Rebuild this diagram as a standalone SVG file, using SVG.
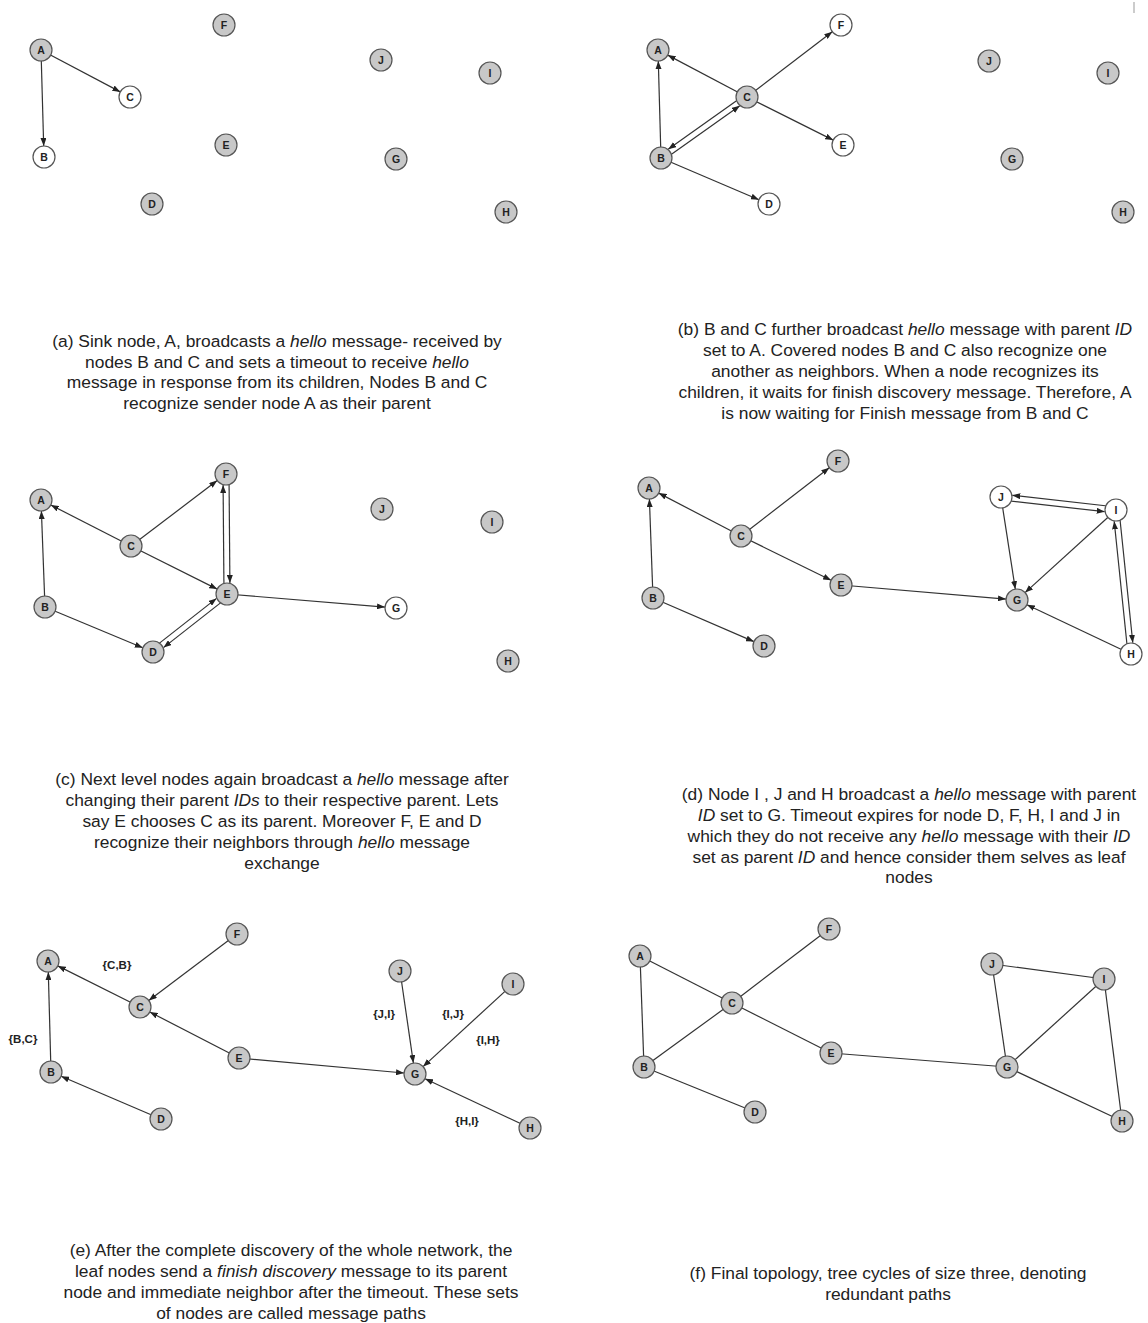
<svg xmlns="http://www.w3.org/2000/svg" width="1148" height="1323" viewBox="0 0 1148 1323">
<style>
.n circle{stroke:#555;stroke-width:1.2}
.g{fill:#c8c8c8}
.w{fill:#fff}
.n text{font-family:"Liberation Sans",Arial,sans-serif;font-size:10.5px;font-weight:bold;fill:#222;text-anchor:middle;dominant-baseline:central}
.e line{stroke:#333;stroke-width:1.2}
.e line.a{marker-end:url(#arr)}
.cap{font-family:"Liberation Sans",Arial,sans-serif;font-size:17.4px;fill:#222;text-anchor:middle}
.lbl{font-family:"Liberation Sans",Arial,sans-serif;font-size:11.5px;font-weight:bold;fill:#222;text-anchor:middle}
</style>
<defs>
<marker id="arr" markerUnits="userSpaceOnUse" markerWidth="8" markerHeight="6" refX="8" refY="3" orient="auto">
<path d="M0,0 L8,3 L0,6 z" fill="#222"/>
</marker>
</defs>
<rect width="1148" height="1323" fill="#fff"/>
<line x1="1134" y1="2" x2="1134" y2="13" stroke="#999" stroke-width="1"/>

<g id="connectors" class="e">
<!-- a -->
<line class="a" x1="41" y1="50" x2="120.3" y2="91.9"/>
<line class="a" x1="41" y1="50" x2="43.7" y2="146"/>
<!-- b -->
<line class="a" x1="661" y1="158" x2="658.3" y2="61"/>
<line class="a" x1="747" y1="97" x2="667.7" y2="55.1"/>
<line class="a" x1="747" y1="97" x2="832.3" y2="31.7"/>
<line class="a" x1="747" y1="97" x2="833.2" y2="140.1"/>
<line class="a" x1="661" y1="158" x2="758.9" y2="199.7"/>
<line class="a" x1="745.3" y1="94.6" x2="668.2" y2="149.2"/>
<line class="a" x1="662.7" y1="160.5" x2="739.8" y2="105.8"/>
<!-- c -->
<line class="a" x1="45" y1="607" x2="41.4" y2="511"/>
<line class="a" x1="131" y1="546" x2="50.8" y2="505"/>
<line class="a" x1="131" y1="546" x2="217.2" y2="480.6"/>
<line class="a" x1="131" y1="546" x2="217.2" y2="589.1"/>
<line class="a" x1="45" y1="607" x2="142.8" y2="647.8"/>
<line class="a" x1="224" y1="594" x2="223.1" y2="485"/>
<line class="a" x1="229" y1="474" x2="229.9" y2="583"/>
<line class="a" x1="151.2" y1="649.6" x2="216.5" y2="598.4"/>
<line class="a" x1="228.8" y1="596.4" x2="163.5" y2="647.6"/>
<line class="a" x1="227" y1="594" x2="385" y2="607.1"/>
<!-- d -->
<line class="a" x1="653" y1="598" x2="649.4" y2="499"/>
<line class="a" x1="741" y1="536" x2="658.7" y2="493.1"/>
<line class="a" x1="741" y1="536" x2="829.3" y2="467.7"/>
<line class="a" x1="741" y1="536" x2="831.1" y2="580.2"/>
<line class="a" x1="653" y1="598" x2="753.9" y2="641.6"/>
<line class="a" x1="841" y1="585" x2="1006" y2="599.1"/>
<line class="a" x1="1001" y1="497" x2="1015.3" y2="589.1"/>
<line class="a" x1="1116" y1="510" x2="1025.1" y2="592.6"/>
<line class="a" x1="1131" y1="654" x2="1026.9" y2="604.7"/>
<line class="a" x1="1116.3" y1="507" x2="1012.3" y2="495.3"/>
<line class="a" x1="1000.7" y1="500" x2="1104.7" y2="511.7"/>
<line class="a" x1="1128" y1="654.3" x2="1114.2" y2="521.3"/>
<line class="a" x1="1119" y1="509.7" x2="1132.8" y2="642.8"/>
<!-- e -->
<line class="a" x1="51" y1="1072" x2="48.3" y2="972"/>
<line class="a" x1="140" y1="1007" x2="57.8" y2="965.9"/>
<line class="a" x1="237" y1="934" x2="148.8" y2="1000.4"/>
<line class="a" x1="239" y1="1058" x2="149.8" y2="1012"/>
<line class="a" x1="161" y1="1119" x2="61.1" y2="1076.3"/>
<line class="a" x1="239" y1="1058" x2="404" y2="1073"/>
<line class="a" x1="400" y1="971" x2="413.4" y2="1063.1"/>
<line class="a" x1="513" y1="984" x2="423.1" y2="1066.6"/>
<line class="a" x1="530" y1="1128" x2="425" y2="1078.7"/>
<!-- f -->
<line x1="640" y1="956" x2="644" y2="1067"/>
<line x1="640" y1="956" x2="732" y2="1003"/>
<line x1="732" y1="1003" x2="829" y2="929"/>
<line x1="732" y1="1003" x2="644" y2="1067"/>
<line x1="732" y1="1003" x2="831" y2="1053"/>
<line x1="644" y1="1067" x2="755" y2="1112"/>
<line x1="831" y1="1053" x2="1007" y2="1067"/>
<line x1="992" y1="964" x2="1104" y2="979"/>
<line x1="992" y1="964" x2="1007" y2="1067"/>
<line x1="1104" y1="979" x2="1007" y2="1067"/>
<line x1="1104" y1="979" x2="1122" y2="1121"/>
<line x1="1007" y1="1067" x2="1122" y2="1121"/>
</g>

<!-- panel a -->
<g id="a-A" class="n"><circle class="g" cx="41" cy="50" r="11"/><text x="41" y="50">A</text></g>
<g id="a-C" class="n"><circle class="w" cx="130" cy="97" r="11"/><text x="130" y="97">C</text></g>
<g id="a-B" class="n"><circle class="w" cx="44" cy="157" r="11"/><text x="44" y="157">B</text></g>
<g id="a-F" class="n"><circle class="g" cx="224" cy="25" r="11"/><text x="224" y="25">F</text></g>
<g id="a-E" class="n"><circle class="g" cx="226" cy="145" r="11"/><text x="226" y="145">E</text></g>
<g id="a-D" class="n"><circle class="g" cx="152" cy="204" r="11"/><text x="152" y="204">D</text></g>
<g id="a-J" class="n"><circle class="g" cx="381" cy="60" r="11"/><text x="381" y="60">J</text></g>
<g id="a-I" class="n"><circle class="g" cx="490" cy="73" r="11"/><text x="490" y="73">I</text></g>
<g id="a-G" class="n"><circle class="g" cx="396" cy="159" r="11"/><text x="396" y="159">G</text></g>
<g id="a-H" class="n"><circle class="g" cx="506" cy="212" r="11"/><text x="506" y="212">H</text></g>

<!-- panel b -->
<g id="b-A" class="n"><circle class="g" cx="658" cy="50" r="11"/><text x="658" y="50">A</text></g>
<g id="b-B" class="n"><circle class="g" cx="661" cy="158" r="11"/><text x="661" y="158">B</text></g>
<g id="b-C" class="n"><circle class="g" cx="747" cy="97" r="11"/><text x="747" y="97">C</text></g>
<g id="b-F" class="n"><circle class="w" cx="841" cy="25" r="11"/><text x="841" y="25">F</text></g>
<g id="b-E" class="n"><circle class="w" cx="843" cy="145" r="11"/><text x="843" y="145">E</text></g>
<g id="b-D" class="n"><circle class="w" cx="769" cy="204" r="11"/><text x="769" y="204">D</text></g>
<g id="b-J" class="n"><circle class="g" cx="989" cy="61" r="11"/><text x="989" y="61">J</text></g>
<g id="b-I" class="n"><circle class="g" cx="1108" cy="73" r="11"/><text x="1108" y="73">I</text></g>
<g id="b-G" class="n"><circle class="g" cx="1012" cy="159" r="11"/><text x="1012" y="159">G</text></g>
<g id="b-H" class="n"><circle class="g" cx="1123" cy="212" r="11"/><text x="1123" y="212">H</text></g>

<!-- panel c -->
<g id="c-A" class="n"><circle class="g" cx="41" cy="500" r="11"/><text x="41" y="500">A</text></g>
<g id="c-C" class="n"><circle class="g" cx="131" cy="546" r="11"/><text x="131" y="546">C</text></g>
<g id="c-B" class="n"><circle class="g" cx="45" cy="607" r="11"/><text x="45" y="607">B</text></g>
<g id="c-F" class="n"><circle class="g" cx="226" cy="474" r="11"/><text x="226" y="474">F</text></g>
<g id="c-E" class="n"><circle class="g" cx="227" cy="594" r="11"/><text x="227" y="594">E</text></g>
<g id="c-D" class="n"><circle class="g" cx="153" cy="652" r="11"/><text x="153" y="652">D</text></g>
<g id="c-G" class="n"><circle class="w" cx="396" cy="608" r="11"/><text x="396" y="608">G</text></g>
<g id="c-J" class="n"><circle class="g" cx="382" cy="509" r="11"/><text x="382" y="509">J</text></g>
<g id="c-I" class="n"><circle class="g" cx="492" cy="522" r="11"/><text x="492" y="522">I</text></g>
<g id="c-H" class="n"><circle class="g" cx="508" cy="661" r="11"/><text x="508" y="661">H</text></g>

<!-- panel d -->
<g id="d-A" class="n"><circle class="g" cx="649" cy="488" r="11"/><text x="649" y="488">A</text></g>
<g id="d-F" class="n"><circle class="g" cx="838" cy="461" r="11"/><text x="838" y="461">F</text></g>
<g id="d-C" class="n"><circle class="g" cx="741" cy="536" r="11"/><text x="741" y="536">C</text></g>
<g id="d-E" class="n"><circle class="g" cx="841" cy="585" r="11"/><text x="841" y="585">E</text></g>
<g id="d-B" class="n"><circle class="g" cx="653" cy="598" r="11"/><text x="653" y="598">B</text></g>
<g id="d-D" class="n"><circle class="g" cx="764" cy="646" r="11"/><text x="764" y="646">D</text></g>
<g id="d-J" class="n"><circle class="w" cx="1001" cy="497" r="11"/><text x="1001" y="497">J</text></g>
<g id="d-I" class="n"><circle class="w" cx="1116" cy="510" r="11"/><text x="1116" y="510">I</text></g>
<g id="d-G" class="n"><circle class="g" cx="1017" cy="600" r="11"/><text x="1017" y="600">G</text></g>
<g id="d-H" class="n"><circle class="w" cx="1131" cy="654" r="11"/><text x="1131" y="654">H</text></g>

<!-- panel e -->
<g id="e-A" class="n"><circle class="g" cx="48" cy="961" r="11"/><text x="48" y="961">A</text></g>
<g id="e-F" class="n"><circle class="g" cx="237" cy="934" r="11"/><text x="237" y="934">F</text></g>
<g id="e-C" class="n"><circle class="g" cx="140" cy="1007" r="11"/><text x="140" y="1007">C</text></g>
<g id="e-B" class="n"><circle class="g" cx="51" cy="1072" r="11"/><text x="51" y="1072">B</text></g>
<g id="e-E" class="n"><circle class="g" cx="239" cy="1058" r="11"/><text x="239" y="1058">E</text></g>
<g id="e-D" class="n"><circle class="g" cx="161" cy="1119" r="11"/><text x="161" y="1119">D</text></g>
<g id="e-J" class="n"><circle class="g" cx="400" cy="971" r="11"/><text x="400" y="971">J</text></g>
<g id="e-I" class="n"><circle class="g" cx="513" cy="984" r="11"/><text x="513" y="984">I</text></g>
<g id="e-G" class="n"><circle class="g" cx="415" cy="1074" r="11"/><text x="415" y="1074">G</text></g>
<g id="e-H" class="n"><circle class="g" cx="530" cy="1128" r="11"/><text x="530" y="1128">H</text></g>
<g id="e-labels">
<text class="lbl" x="117" y="969">{C,B}</text>
<text class="lbl" x="23" y="1043">{B,C}</text>
<text class="lbl" x="384" y="1018">{J,I}</text>
<text class="lbl" x="453" y="1018">{I,J}</text>
<text class="lbl" x="488" y="1044">{I,H}</text>
<text class="lbl" x="467" y="1125">{H,I}</text>
</g>

<!-- panel f -->
<g id="f-A" class="n"><circle class="g" cx="640" cy="956" r="11"/><text x="640" y="956">A</text></g>
<g id="f-F" class="n"><circle class="g" cx="829" cy="929" r="11"/><text x="829" y="929">F</text></g>
<g id="f-C" class="n"><circle class="g" cx="732" cy="1003" r="11"/><text x="732" y="1003">C</text></g>
<g id="f-B" class="n"><circle class="g" cx="644" cy="1067" r="11"/><text x="644" y="1067">B</text></g>
<g id="f-E" class="n"><circle class="g" cx="831" cy="1053" r="11"/><text x="831" y="1053">E</text></g>
<g id="f-D" class="n"><circle class="g" cx="755" cy="1112" r="11"/><text x="755" y="1112">D</text></g>
<g id="f-J" class="n"><circle class="g" cx="992" cy="964" r="11"/><text x="992" y="964">J</text></g>
<g id="f-I" class="n"><circle class="g" cx="1104" cy="979" r="11"/><text x="1104" y="979">I</text></g>
<g id="f-G" class="n"><circle class="g" cx="1007" cy="1067" r="11"/><text x="1007" y="1067">G</text></g>
<g id="f-H" class="n"><circle class="g" cx="1122" cy="1121" r="11"/><text x="1122" y="1121">H</text></g>

<!-- captions -->
<g id="captions">
<text class="cap" x="277" y="347">(a) Sink node, A, broadcasts a <tspan font-style="italic">hello</tspan>  message- received by</text>
<text class="cap" x="277" y="368">nodes B and C and sets a timeout to receive <tspan font-style="italic">hello</tspan></text>
<text class="cap" x="277" y="388">message in response from its children, Nodes B and C</text>
<text class="cap" x="277" y="409">recognize sender node A as their parent</text>

<text class="cap" x="905" y="335">(b) B and C further broadcast <tspan font-style="italic">hello</tspan> message with parent <tspan font-style="italic">ID</tspan></text>
<text class="cap" x="905" y="356">set to A. Covered nodes B and C also recognize one</text>
<text class="cap" x="905" y="377">another as neighbors. When a node recognizes its</text>
<text class="cap" x="905" y="398">children, it waits for finish discovery message. Therefore, A</text>
<text class="cap" x="905" y="419">is now waiting for Finish message from B and C</text>

<text class="cap" x="282" y="785">(c) Next level nodes again broadcast a <tspan font-style="italic">hello</tspan> message after</text>
<text class="cap" x="282" y="806">changing their parent <tspan font-style="italic">IDs</tspan> to their respective parent. Lets</text>
<text class="cap" x="282" y="827">say E chooses C as its parent. Moreover F, E and D</text>
<text class="cap" x="282" y="848">recognize their neighbors through <tspan font-style="italic">hello</tspan> message</text>
<text class="cap" x="282" y="869">exchange</text>

<text class="cap" x="909" y="800">(d) Node I , J and H broadcast a <tspan font-style="italic">hello</tspan> message with parent</text>
<text class="cap" x="909" y="821"><tspan font-style="italic">ID</tspan> set to G. Timeout expires for node D, F, H, I and J in</text>
<text class="cap" x="909" y="842">which they do not receive any <tspan font-style="italic">hello</tspan> message with their <tspan font-style="italic">ID</tspan></text>
<text class="cap" x="909" y="863">set as parent <tspan font-style="italic">ID</tspan> and hence consider them selves as leaf</text>
<text class="cap" x="909" y="883">nodes</text>

<text class="cap" x="291" y="1256">(e) After the complete discovery of the whole network, the</text>
<text class="cap" x="291" y="1277">leaf nodes send a <tspan font-style="italic">finish discovery</tspan> message to its parent</text>
<text class="cap" x="291" y="1298">node and immediate neighbor after the timeout. These sets</text>
<text class="cap" x="291" y="1319">of nodes are called message paths</text>

<text class="cap" x="888" y="1279">(f) Final topology, tree cycles of size three, denoting</text>
<text class="cap" x="888" y="1300">redundant paths</text>
</g>
</svg>
